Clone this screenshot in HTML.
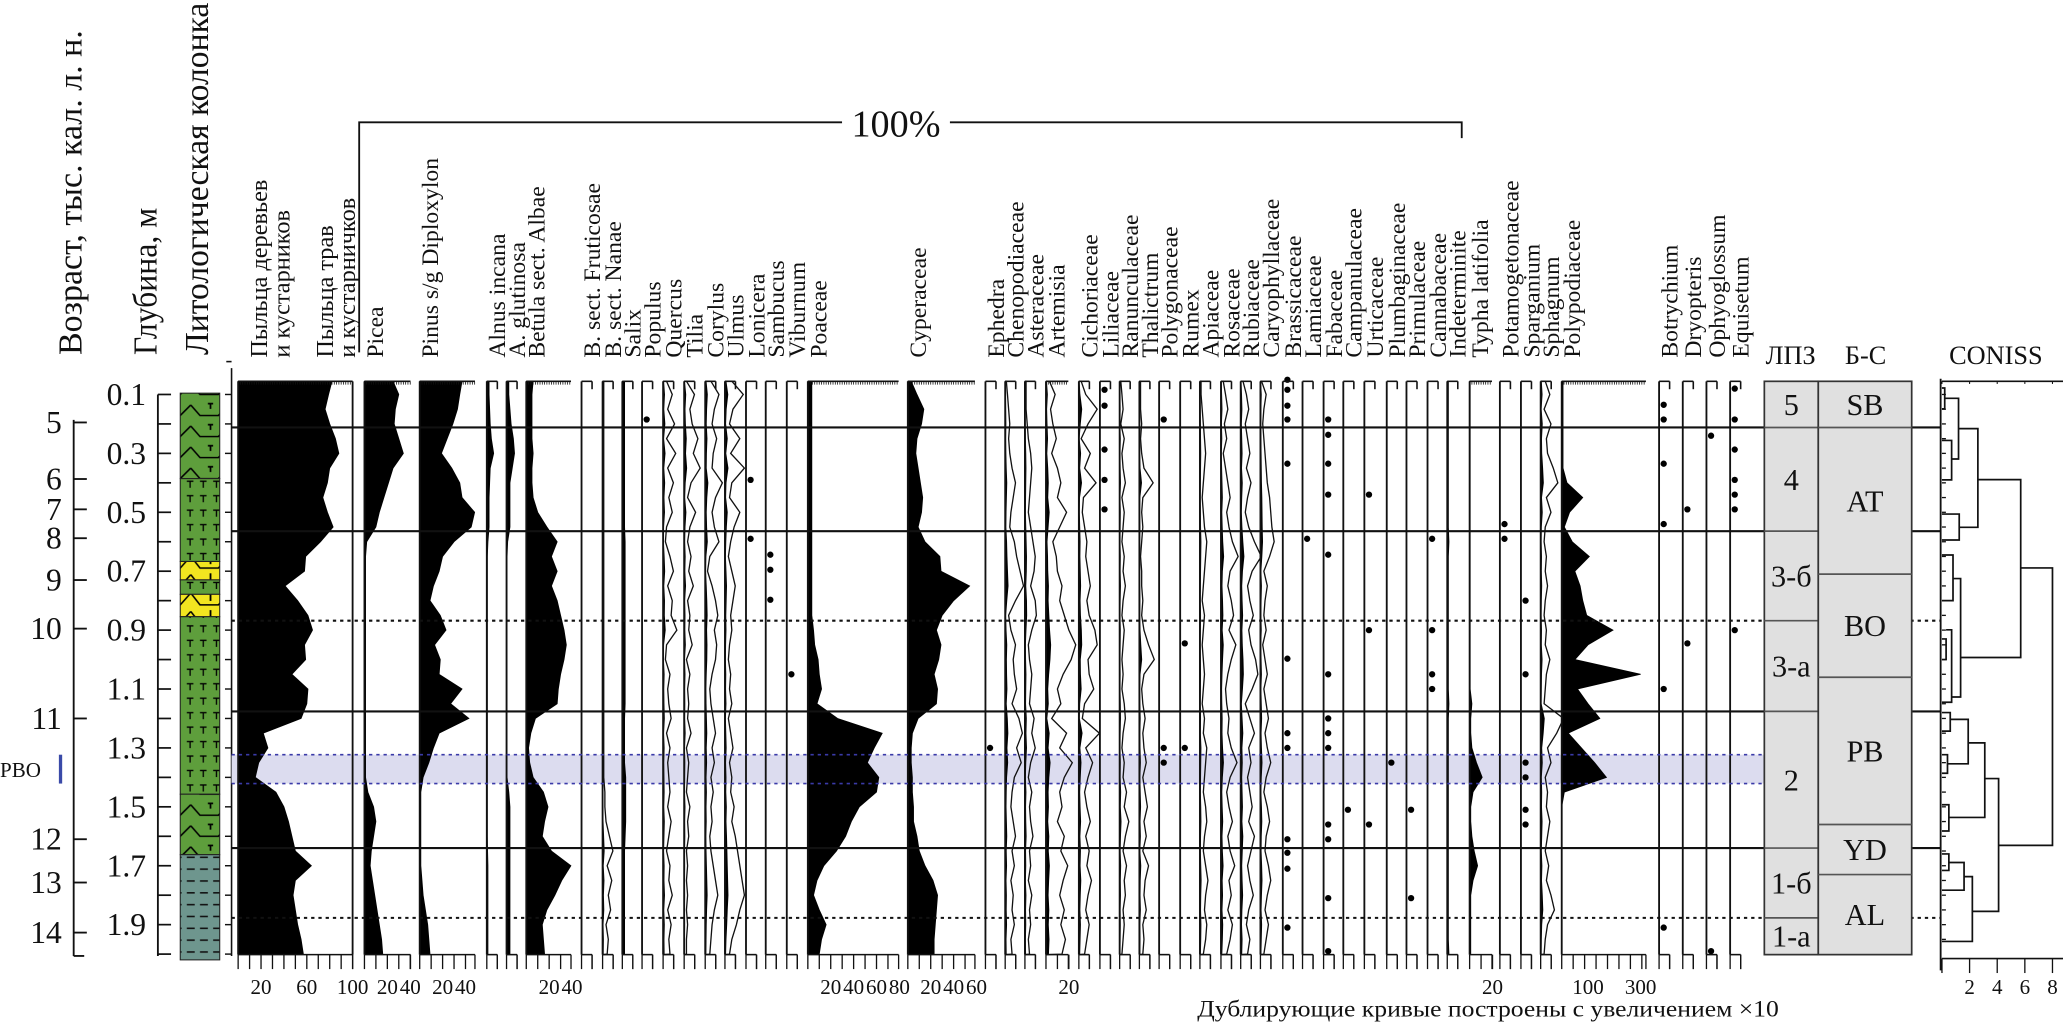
<!DOCTYPE html>
<html><head><meta charset="utf-8"><title>Pollen diagram</title>
<style>
html,body{margin:0;padding:0;background:#fff;}
svg{display:block;}
text{font-family:"Liberation Serif","DejaVu Serif",serif;fill:#111;}
</style></head>
<body>
<svg id="chart" xmlns="http://www.w3.org/2000/svg" width="2063" height="1023" viewBox="0 0 1568 778" preserveAspectRatio="none">
<defs>
<pattern id="patT" width="10" height="11" patternUnits="userSpaceOnUse">
<rect width="10" height="11" fill="#5e9e3c"/>
<path d="M2 3h5M4.5 3v5" stroke="#000" stroke-width="1"/>
</pattern>
<pattern id="patC" width="29" height="16" patternUnits="userSpaceOnUse">
<rect width="29" height="16" fill="#5e9e3c"/>
<path d="M0 4 L7 12 L21 12 L29 4" stroke="#000" fill="none" stroke-width="1.2"/>
<path d="M13 3h4M15 3v4" stroke="#000" stroke-width="1.3"/>
</pattern>
<pattern id="patY" width="29" height="14" patternUnits="userSpaceOnUse">
<rect width="29" height="14" fill="#f2e520"/>
<path d="M0 3 L7 12 L21 12 L29 3" stroke="#000" fill="none" stroke-width="1.2"/>
<path d="M15 2v7" stroke="#000" stroke-width="1.4"/>
</pattern>
<pattern id="patG" width="10" height="9" patternUnits="userSpaceOnUse">
<rect width="10" height="9" fill="#6e968e"/>
<path d="M2 4h6" stroke="#111" stroke-width="1.2"/>
</pattern>
</defs>
</svg>
<script>
// ---------- data ----------
const depths=[0.055,0.1,0.15,0.2,0.25,0.3,0.35,0.4,0.45,0.5,0.55,0.6,0.65,0.7,0.75,0.8,0.85,0.9,0.95,1.0,1.05,1.1,1.15,1.2,1.25,1.3,1.35,1.4,1.45,1.5,1.55,1.6,1.65,1.7,1.75,1.8,1.85,1.9,1.95,2.0];
const trees=[82,79,76,80,85,88,80,78,74,78,83,72,59,58,41,52,61,65,58,59,47,61,60,55,22,26,18,15,33,40,44,47,50,64,50,48,50,52,55,57];
const picea=[25,30,27,26,30,34,25,21,17,13,10,2,1,1,1,1,1,1,1,1,1,1,1,1,1,1,1,1,3,8,10,8,6,5,7,9,11,13,15,16];
const pinus=[37,35,33,29,24,19,28,35,37,48,45,30,20,17,12,9,18,23,13,18,17,37,27,43,17,12,8,3,1,1,1,1,1,1,2,3,5,7,8,9];
const alnusInc=[2,2,2.5,3,4,6,3,2.5,2,2,2,1,0.5,0.5,0.5,0.5,0.5,0.5,0.5,0.5,0.5,0.5,0.5,0.5,0.5,0.5,0.5,0.5,0.5,0.5,0.5,0.5,0.7,1,1,1,1,1,1,1];
const alnusGlu=[2,2,3,4,6,7,5,3,3,3,3,1,0.5,0.5,0.5,0.5,0.5,0.5,0.5,0.5,0.5,0.5,0.5,0.5,0.5,0.5,0.5,0.5,2,3,3,3,3,3,3,3,3,3,3,3];
const betula=[6,5,5,5,5,6,5,5,6,10,18,27,22,27,22,27,30,33,35,33,30,28,27,8,4,2,3,6,15,19,16,14,22,39,31,25,18,14,15,16];
const salix=[2,2,2,2,2,2,2,2,2,2,2,2.5,2.5,2.5,2.5,2.5,2.5,2.5,2.5,2.5,2.5,2.5,2.5,2,2,2,2,3,3,3,3,2.5,2,2,2,2,2,2,2,2];
const poaceae=[3.5,3.5,3.5,3.5,3.5,3.5,3.5,3.5,3.5,3.5,3.5,3.5,3.5,3.5,3.5,3.5,3.5,5,6,9,10,12,8,26,65,58,52,62,60,45,38,33,25,14,8,5,10,16,12,10];
const cyperaceae=[3,8,14,12,8,7,9,11,13,12,9,15,28,29,54,40,30,25,29,27,23,26,25,9,4,3,3,4,4,5,5,8,10,15,22,26,25,24,23,23];
const typha=[0.5,0.5,0.5,0.5,0.5,0.5,0.5,0.5,0.5,0.5,0.5,0.5,0.5,0.5,0.5,0.5,0.5,0.5,0.5,0.5,0.5,0.5,2,1,1,2,6,11,3,1,1,2,4,7,3,1,1,1,1,1];
const indeterm=[1,1,1,1,1,1,1,1,1,1,1,1.5,1,1,1,1,1,1,1,1,1,1,1.5,1,1,1,1,1,1,1,1,1,1,1,1,1,1,1,1,1.5];
const polypod=[5,5,5,5,5,5,5,20,80,30,10,40,105,50,70,80,95,195,100,50,300,60,100,145,25,75,125,170,10,0,0,0,0,0,0,0,0,0,0,0];
const quercus=[0.3,0.8,0.4,1.0,0.3,1.1,0.4,0.9,0.5,0.8,0.3,0.2,0.6,0.9,0.4,0.8,0.7,1.2,0.3,0.2,0.6,0.4,0.5,0.7,0.3,0.6,0.4,0.5,0.6,0.4,0.7,0.5,0.3,0.6,0.5,0.8,0.4,0.7,0.5,0.6];
const tilia=[0.2,0.9,0.5,0.7,1.2,0.8,1.4,0.6,0.3,1.0,0.5,0.3,0.6,0.4,0.8,0.3,0.5,0.4,0.7,0.2,0.5,0.3,0.4,0.3,0.6,0.2,0.4,0.3,0.2,0.5,0.3,0.4,0.2,0.3,0.2,0.3,0.2,0.3,0.2,0.2];
const corylus=[0.5,1.2,0.8,0.6,1.0,0.7,0.6,1.5,0.9,0.6,0.8,1.2,0.4,0.2,0.6,0.9,1.1,0.8,1.0,0.9,0.6,0.4,0.5,0.7,0.9,0.6,0.8,0.5,0.7,0.5,0.6,0.4,0.5,0.7,0.9,1.1,0.8,0.6,0.5,0.4];
const ulmus=[0.6,1.6,0.7,0.4,1.3,0.5,1.7,0.6,0.4,1.3,0.8,0.5,0.3,0.6,0.9,0.7,0.5,0.6,0.4,0.3,0.5,0.4,0.6,0.3,0.5,0.7,0.4,0.6,0.5,0.8,0.6,0.9,1.1,1.3,1.5,1.7,1.3,1.0,0.6,0.4];
const nanae=[0.1,0.1,0.1,0.1,0.1,0.1,0.1,0.1,0.1,0.1,0.1,0.1,0.1,0.1,0.1,0.1,0.1,0.1,0.1,0.1,0.1,0.1,0.1,0.1,0.1,0.1,0.1,0.1,0.2,0.2,0.3,0.6,0.9,0.4,0.8,0.5,0.7,0.3,0.5,0.4];
const chenopod=[0.1,0.2,0.3,0.4,0.3,0.4,0.6,0.9,0.7,0.5,0.4,0.8,1.0,1.3,1.6,0.9,0.3,0.5,0.9,0.7,0.8,1.0,0.6,1.2,1.5,1.0,1.4,0.8,0.6,0.5,0.7,0.9,0.6,0.8,0.5,0.7,0.6,0.8,0.5,0.6];
const asteraceae=[0.1,0.1,0.1,0.2,0.3,0.5,0.6,0.5,0.4,0.3,0.5,0.7,0.9,0.8,0.5,0.9,1.0,0.6,0.3,0.4,0.6,0.5,0.4,0.8,0.6,0.9,0.5,0.3,0.6,0.4,0.5,0.7,0.4,0.5,0.3,0.6,0.4,0.5,0.3,0.4];
const artemisia=[0.3,0.8,0.4,0.6,0.9,0.5,1.0,1.3,1.0,1.8,1.2,0.6,0.9,1.0,1.4,1.2,1.6,2.0,2.6,2.2,1.5,1.0,1.3,0.5,1.8,1.2,2.3,1.6,1.2,1.4,1.0,1.6,1.3,1.9,1.5,1.2,1.6,1.3,1.7,1.4];
const cichor=[0.2,0.6,1.6,0.8,0.2,1.0,0.5,1.5,0.4,0.3,0.5,0.7,0.6,0.8,1.0,0.7,0.9,1.4,1.6,0.8,0.9,1.3,0.5,0.3,1.8,0.6,1.2,0.8,0.5,0.7,1.0,0.6,0.9,0.7,1.1,0.8,0.6,0.9,0.7,0.5];
const ranunc=[0.1,0.2,0.3,0.1,0.4,0.2,0.3,0.5,0.2,0.4,0.3,0.2,0.4,0.3,0.5,0.3,0.2,0.4,0.3,0.2,0.3,0.2,0.4,0.5,0.3,0.2,0.4,0.3,0.6,0.4,0.8,0.5,0.3,0.6,0.4,0.5,0.3,0.4,0.3,0.2];
const thalict=[0.1,0.1,0.1,0.2,0.1,0.2,0.4,1.2,0.3,0.2,0.3,0.2,0.1,0.2,0.2,0.3,0.2,0.4,0.8,1.3,0.4,0.2,0.3,0.5,0.3,0.4,0.6,0.3,0.5,0.7,0.4,0.6,0.3,0.8,0.5,0.4,0.6,0.3,0.4,0.3];
const apiaceae=[0.1,0.1,0.2,0.3,0.4,0.5,0.4,0.3,0.2,0.3,0.4,0.6,0.5,0.4,0.3,0.2,0.4,0.3,0.2,0.3,0.4,0.3,0.2,0.4,0.3,0.6,0.5,0.4,0.3,0.5,0.6,0.4,0.3,0.5,0.7,0.5,0.4,0.6,0.5,0.3];
const rosaceae=[0.2,0.4,0.6,0.3,0.5,0.2,0.4,0.6,0.8,0.5,0.7,1.0,1.5,0.8,0.6,0.9,1.1,0.7,1.3,0.9,0.6,0.4,0.5,0.7,0.6,0.9,1.4,0.8,0.5,0.7,1.0,0.6,0.8,1.2,0.7,0.9,0.6,1.0,0.8,0.5];
const rubiac=[0.2,0.5,0.7,0.4,0.6,0.8,0.5,0.9,0.6,0.4,0.7,1.2,1.8,1.0,0.6,0.8,1.1,0.7,0.9,1.3,1.5,1.0,0.4,0.8,1.2,0.7,0.9,0.6,0.8,1.0,0.7,1.2,0.9,0.6,0.8,1.1,0.7,0.5,0.8,0.6];
const caryoph=[0.1,0.5,0.3,0.2,0.3,0.4,0.5,0.6,0.8,0.9,1.0,1.2,0.8,0.3,0.6,0.4,0.3,0.5,0.2,0.4,0.6,0.3,0.5,0.7,0.4,0.6,0.9,0.5,0.3,0.6,0.8,0.5,0.4,0.7,0.9,0.6,0.4,0.7,0.5,0.3];
const sphagnum=[0.4,0.8,0.3,0.9,0.5,0.6,1.1,1.5,0.5,0.9,0.4,0.3,0.5,0.4,0.6,0.4,0.3,0.5,0.4,0.8,0.5,0.4,0.3,2.0,1.4,0.6,0.9,0.4,0.6,0.5,0.8,0.6,0.4,0.7,0.5,0.9,1.2,0.6,0.4,0.3];
// sporadic finds (depth, m)
const dotsPopulus=[0.185];
const dotsLonicera=[0.39,0.59];
const dotsSambucus=[0.644,0.695,0.797];
const dotsViburnum=[1.05];
const dotsEphedra=[1.30];
const dotsLiliaceae=[0.084,0.138,0.287,0.39,0.49];
const dotsPolygonaceae=[0.185,1.30,1.35];
const dotsRumex=[0.945,1.30];
const dotsBrassicaceae=[0.05,0.084,0.138,0.185,0.335,0.997,1.25,1.30,1.61,1.656,1.71,1.91];
const dotsLamiaceae=[0.59];
const dotsFabaceae=[0.185,0.237,0.335,0.44,0.644,1.05,1.20,1.25,1.30,1.56,1.61,1.81,1.99];
const dotsCampanul=[1.51];
const dotsUrtic=[0.44,0.90,1.56];
const dotsPlumbag=[1.35];
const dotsPrimul=[1.51,1.81];
const dotsCannab=[0.59,0.90,1.05,1.10];
const dotsPotamog=[0.54,0.59];
const dotsSparganium=[0.80,1.05,1.35,1.40,1.51,1.56];
const dotsBotrychium=[0.135,0.185,0.335,0.54,1.10,1.91];
const dotsDryopteris=[0.49,0.945];
const dotsOphyogl=[0.24,1.99];
const dotsEquisetum=[0.08,0.185,0.287,0.39,0.44,0.49,0.90];
// zones
const zoneSolid=[0.212,0.564,1.176,1.64];
const zoneDotted=[0.868,1.877];
const pboBand=[1.323,1.421];
const lpzBounds=[0.212,0.564,0.868,1.176,1.64,1.877];
const lpzLabels=["5","4","3-б","3-а","2","1-б","1-а"];
const bsBounds=[0.212,0.71,1.06,1.56,1.73];
const bsLabels=["SB","AT","BO","PB","YD","AL"];
const ageTicks=[5,6,7,8,9,10,11,12,13,14];
const ageDepths=[0.195,0.387,0.49,0.588,0.73,0.895,1.2,1.61,1.757,1.927];
const depthLabels=[0.1,0.3,0.5,0.7,0.9,1.1,1.3,1.5,1.7,1.9];
// CONISS merges: [top depth, bottom depth, height, top child h, bottom child h]
const conissMerges=[[0.689,1.631,8,5.7,4.1],[0.389,0.993,5.7,2.6,1.35],[0.216,0.551,2.6,1.2,1.25],[0.113,0.319,1.2,0.2,0.7],[0.078,0.149,0.2,0,0],[0.256,0.39,0.7,0,0],[0.506,0.594,1.25,0,0],[0.725,1.127,1.35,0.8,0.7],[0.645,0.80,0.8,0,0],[0.899,1.145,0.7,0.3,0],[0.93,1.0,0.3,0,0],[1.404,1.855,4.1,3.1,2.2],[1.283,1.536,3.1,1.9,0.5],[1.203,1.354,1.9,0.6,0.4],[1.18,1.243,0.6,0,0],[1.323,1.386,0.4,0,0],[1.493,1.582,0.5,0,0],[1.737,1.957,2.2,1.6,0],[1.689,1.783,1.6,0.5,0],[1.66,1.716,0.5,0,0]];
const conissTicks=[2,4,6,8];

// ---------- helpers ----------
const NS='http://www.w3.org/2000/svg';
const svg=document.getElementById('chart');
function mk(tag,attrs,parent){const e=document.createElementNS(NS,tag);for(const k in attrs)e.setAttribute(k,attrs[k]);(parent||svg).appendChild(e);return e;}
const Y=d=>300+(d-0.1)*224;
const PX=0.87;
const TOP=290,BOT=726;
const CX=h=>1476+h*10.5;

// layout of columns
const cols=[
{label:'Picea',x:277,w:35,kind:'fill',data:picea,ticks:[20,40]},
{label:'Pinus s/g Diploxylon',x:319,w:42,kind:'fill',data:pinus,ticks:[20,40]},
{label:'Alnus incana',x:370,w:8,kind:'fill',data:alnusInc},
{label:'A. glutinosa',x:385,w:8,kind:'fill',data:alnusGlu},
{label:'Betula sect. Albae',x:400,w:34,kind:'fill',data:betula,ticks:[20,40]},
{label:'B. sect. Fruticosae',x:442,w:8,kind:'none'},
{label:'B. sect. Nanae',x:458,w:8,kind:'line',data:nanae},
{label:'Salix',x:473,w:8,kind:'fill',data:salix},
{label:'Populus',x:488,w:8,kind:'dots',data:dotsPopulus},
{label:'Quercus',x:504,w:8,kind:'line',data:quercus},
{label:'Tilia',x:520,w:8,kind:'line',data:tilia},
{label:'Corylus',x:536,w:8,kind:'line',data:corylus},
{label:'Ulmus',x:551,w:8,kind:'line',data:ulmus},
{label:'Lonicera',x:567,w:8,kind:'dots',data:dotsLonicera},
{label:'Sambucus',x:582,w:8,kind:'dots',data:dotsSambucus},
{label:'Viburnum',x:598,w:8,kind:'dots',data:dotsViburnum},
{label:'Poaceae',x:614,w:69,kind:'fill',data:poaceae,ticks:[20,40,60,80]},
{label:'Cyperaceae',x:690,w:51,kind:'fill',data:cyperaceae,ticks:[20,40,60]},
{label:'Ephedra',x:749,w:8,kind:'dots',data:dotsEphedra},
{label:'Chenopodiaceae',x:764,w:8,kind:'line',data:chenopod},
{label:'Asteraceae',x:779,w:8,kind:'line',data:asteraceae},
{label:'Artemisia',x:795,w:17,kind:'line',data:artemisia,ticks:[20]},
{label:'Cichoriaceae',x:820,w:8,kind:'line',data:cichor},
{label:'Liliaceae',x:836,w:8,kind:'dots',data:dotsLiliaceae},
{label:'Ranunculaceae',x:851,w:8,kind:'line',data:ranunc},
{label:'Thalictrum',x:866,w:8,kind:'line',data:thalict},
{label:'Polygonaceae',x:881,w:8,kind:'dots',data:dotsPolygonaceae},
{label:'Rumex',x:897,w:8,kind:'dots',data:dotsRumex},
{label:'Apiaceae',x:912,w:8,kind:'line',data:apiaceae},
{label:'Rosaceae',x:928,w:8,kind:'line',data:rosaceae},
{label:'Rubiaceae',x:943,w:8,kind:'line',data:rubiac},
{label:'Caryophyllaceae',x:958,w:8,kind:'line',data:caryoph},
{label:'Brassicaceae',x:975,w:8,kind:'dots',data:dotsBrassicaceae},
{label:'Lamiaceae',x:990,w:8,kind:'dots',data:dotsLamiaceae},
{label:'Fabaceae',x:1006,w:8,kind:'dots',data:dotsFabaceae},
{label:'Campanulaceae',x:1021,w:8,kind:'dots',data:dotsCampanul},
{label:'Urticaceae',x:1037,w:8,kind:'dots',data:dotsUrtic},
{label:'Plumbaginaceae',x:1054,w:8,kind:'dots',data:dotsPlumbag},
{label:'Primulaceae',x:1069,w:8,kind:'dots',data:dotsPrimul},
{label:'Cannabaceae',x:1085,w:8,kind:'dots',data:dotsCannab},
{label:'Indeterminite',x:1100,w:8,kind:'fill',data:indeterm},
{label:'Typha latifolia',x:1117,w:17,kind:'fill',data:typha,ticks:[20]},
{label:'Potamogetonaceae',x:1140,w:8,kind:'dots',data:dotsPotamog},
{label:'Sparganium',x:1156,w:8,kind:'dots',data:dotsSparganium},
{label:'Sphagnum',x:1171,w:8,kind:'line',data:sphagnum},
{label:'Polypodiaceae',x:1187,w:64,kind:'fill',data:polypod,scale:0.2,ticks:[100,300]},
{label:'Botrychium',x:1261,w:8,kind:'dots',data:dotsBotrychium},
{label:'Dryopteris',x:1279,w:8,kind:'dots',data:dotsDryopteris},
{label:'Ophyoglossum',x:1297,w:8,kind:'dots',data:dotsOphyogl},
{label:'Equisetum',x:1315,w:8,kind:'dots',data:dotsEquisetum}
];

// ---------- left titles ----------
function vtext(str,x,y,size,len,name){
  const t=mk('text',{x:0,y:0,transform:`translate(${x},${y}) rotate(-90)`,'font-size':size});
  if(len){t.setAttribute('textLength',len);t.setAttribute('lengthAdjust','spacingAndGlyphs');}
  t.textContent=str;
  
  
  return t;
}
vtext('Возраст,  тыс. кал. л. н.',62,270,26,247,'age-axis-title');
vtext('Глубина, м',119,270,26,112,'depth-axis-title');
vtext('Литологическая колонка',158,270,26,268,'lithology-title');
vtext('Пыльца деревьев',203,272,18.5,null,'trees-pollen-title');
vtext('и кустарников',220,272,18.5,null,'trees-pollen-title-2');
vtext('Пыльца трав',253,272,18.5,null,'herbs-pollen-title');
vtext('и кустарничков',270,272,18.5,null,'herbs-pollen-title-2');

// 100% bracket
const br=mk('path',{d:'M273 268 V93 H640 M722 93 H1111 V105',stroke:'#111','stroke-width':1.4,fill:'none'});


const pct=mk('text',{x:681,y:104,'font-size':29,'text-anchor':'middle'});
pct.textContent='100%';



// ---------- age axis ----------
const ageG=mk('g',{});


mk('line',{x1:56,y1:Y(0.195)-2,x2:56,y2:BOT+1,stroke:'#111','stroke-width':1.4},ageG);
mk('line',{x1:56,y1:BOT+1,x2:64,y2:BOT+1,stroke:'#111','stroke-width':1.4},ageG);
ageTicks.forEach((a,i)=>{
  mk('line',{x1:56,y1:Y(ageDepths[i]),x2:66,y2:Y(ageDepths[i]),stroke:'#111','stroke-width':1.4},ageG);
  const t=mk('text',{x:47,y:Y(ageDepths[i])+8,'font-size':24,'text-anchor':'end'},ageG);
  t.textContent=a;
  
  
});
// depth axis
const depG=mk('g',{});


mk('line',{x1:120,y1:Y(0.1),x2:120,y2:BOT+1,stroke:'#111','stroke-width':1.4},depG);
for(let d=0.1;d<2.0001;d+=0.1){mk('line',{x1:120,y1:Y(d),x2:130,y2:Y(d),stroke:'#111','stroke-width':1.3},depG);}
depthLabels.forEach(d=>{
  const t=mk('text',{x:111,y:Y(d)+8,'font-size':24,'text-anchor':'end'},depG);
  t.textContent=d.toFixed(1);
  
  
});
// PBO marker
const pbo=mk('text',{x:0,y:(Y(pboBand[0])+Y(pboBand[1]))/2+6,'font-size':16});
pbo.textContent='PBO';


const pbar=mk('line',{x1:46,y1:Y(pboBand[0]),x2:46,y2:Y(pboBand[1]),stroke:'#3a4aa8','stroke-width':2.5});



// ---------- lithology ----------
const lith=mk('g',{});


[[299,364,'patC'],[364,427,'patT'],[427,441,'patY'],[441,452,'patT'],[452,469,'patY'],[469,604,'patT'],[604,650,'patC'],[650,730,'patG']].forEach(s=>{
  mk('rect',{x:137,y:s[0],width:30,height:s[1]-s[0],fill:`url(#${s[2]})`,stroke:'#222','stroke-width':0.8},lith);
});
// sample axis
const sax=mk('g',{});


mk('line',{x1:176,y1:280,x2:176,y2:BOT+1,stroke:'#111','stroke-width':1.2},sax);
mk('line',{x1:172,y1:275,x2:176,y2:275,stroke:'#111','stroke-width':1.2},sax);
for(let d=0.1;d<2.0001;d+=0.1){mk('line',{x1:171,y1:Y(d),x2:176,y2:Y(d),stroke:'#111','stroke-width':1.1},sax);}

// ---------- PBO band & zone lines ----------
const band=mk('rect',{x:176,y:Y(pboBand[0]),width:1165,height:Y(pboBand[1])-Y(pboBand[0]),fill:'#dcdcef'});



// ---------- tree/herb column ----------
function silhouette(x,data,scale,g){
  let pts=`${x},${Y(depths[0])} `;
  data.forEach((v,i)=>{pts+=`${x+v*scale},${Y(depths[i])} `;});
  pts+=`${x},${Y(depths[depths.length-1])}`;
  return mk('polygon',{points:pts,fill:'#000',stroke:'#000','stroke-width':0.6},g);
}
function bottomAxis(x,w,step,g){
  mk('line',{x1:x,y1:BOT,x2:x+w,y2:BOT,stroke:'#111','stroke-width':1.2},g);
  for(let p=0;p<=w+0.5;p+=step){mk('line',{x1:x+p,y1:BOT,x2:x+p,y2:BOT+11,stroke:'#111','stroke-width':1},g);}
  mk('line',{x1:x+w,y1:BOT,x2:x+w,y2:BOT+11,stroke:'#111','stroke-width':1},g);
}
function topAxis(x,w,g){
  mk('line',{x1:x,y1:TOP,x2:x+w,y2:TOP,stroke:'#111','stroke-width':1.2},g);
  if(w>10){for(let p=0;p<=w;p+=PX*2){mk('line',{x1:x+p,y1:TOP,x2:x+p,y2:TOP+2.5,stroke:'#111','stroke-width':0.6},g);}}
  else mk('line',{x1:x+w,y1:TOP,x2:x+w,y2:TOP+6,stroke:'#111','stroke-width':1.2},g);
}
const tg=mk('g',{});


const tp=silhouette(181,trees,PX,tg);


mk('line',{x1:181,y1:TOP,x2:181,y2:BOT,stroke:'#111','stroke-width':1.4},tg);
mk('line',{x1:268,y1:TOP,x2:268,y2:BOT,stroke:'#111','stroke-width':1.4},tg);
topAxis(181,87,tg);
bottomAxis(181,87,PX*10,tg);
[20,60,100].forEach(v=>{
  const t=mk('text',{x:181+v*PX,y:756,'font-size':16,'text-anchor':'middle'},tg);
  t.textContent=v;
  
  
});

// ---------- taxa columns ----------
cols.forEach(c=>{
  const g=mk('g',{});
  
  
  const sc=c.scale||PX;
  if(c.kind==='fill'){
    const p=silhouette(c.x,c.data,sc,g);
    
    
  } else if(c.kind==='line'){
    const f=silhouette(c.x,c.data,PX*1.6,g);
    
    
    const pts=c.data.map((v,i)=>`${c.x+v*PX*10},${Y(depths[i])}`).join(' ');
    const pl=mk('polyline',{points:`${c.x},${TOP} `+pts+` ${c.x},${BOT}`,fill:'none',stroke:'#111','stroke-width':1},g);
    
    
  } else if(c.kind==='dots'){
    c.data.forEach(d=>{
      const ci=mk('circle',{cx:c.x+3.5,cy:Y(d),r:2.4,fill:'#000'},g);
      
      
    });
  }
  mk('line',{x1:c.x,y1:TOP,x2:c.x,y2:BOT,stroke:'#111','stroke-width':1.4},g);
  topAxis(c.x,c.w,g);
  bottomAxis(c.x,c.w,c.w>10?PX*10:c.w,g);
  (c.ticks||[]).forEach(v=>{
    const t=mk('text',{x:c.x+v*sc,y:756,'font-size':16,'text-anchor':'middle'},g);
    t.textContent=v;
    
    
  });
  const lab=mk('text',{x:0,y:0,transform:`translate(${c.x+14},272) rotate(-90)`,'font-size':18});
  lab.textContent=c.label;
  
  
});

// zone lines on top of curves
const zg=mk('g',{});


zoneSolid.forEach(d=>{
  const l=mk('line',{x1:176,y1:Y(d),x2:1475,y2:Y(d),stroke:'#111','stroke-width':1.6},zg);
  
  
});
zoneDotted.forEach(d=>{
  const l=mk('line',{x1:176,y1:Y(d),x2:1475,y2:Y(d),stroke:'#111','stroke-width':1.6,'stroke-dasharray':'2.5 3'},zg);
  
  
});
pboBand.forEach(d=>{
  mk('line',{x1:176,y1:Y(d),x2:1341,y2:Y(d),stroke:'#3a3aa8','stroke-width':1.3,'stroke-dasharray':'2.5 3'},zg);
});

// ---------- ЛПЗ and Б-С ----------
function zoneBox(x,w,bounds,labels,name){
  const g=mk('g',{});
  
  
  mk('rect',{x:x,y:TOP,width:w,height:BOT-TOP,fill:'#e0e0e0',stroke:'#333','stroke-width':1.3},g);
  const edges=[0.055].concat(bounds,[2.0]);
  bounds.forEach(d=>mk('line',{x1:x,y1:Y(d),x2:x+w,y2:Y(d),stroke:'#555','stroke-width':1.3},g));
  labels.forEach((s,i)=>{
    const yc=(Y(edges[i])+Y(edges[i+1]))/2;
    const t=mk('text',{x:x+w/2,y:yc+8,'font-size':23,'text-anchor':'middle'},g);
    t.textContent=s;
    
    
  });
}
zoneBox(1341,41,lpzBounds,lpzLabels,'pollen-zones-column');
zoneBox(1382,71,bsBounds,bsLabels,'blytt-sernander-column');
[['ЛПЗ',1361],['Б-С',1418],['CONISS',1517]].forEach(h=>{
  const t=mk('text',{x:h[1],y:277,'font-size':20,'text-anchor':'middle'});
  t.textContent=h[0];
  
  
});

// ---------- CONISS ----------
const cg=mk('g',{});


mk('line',{x1:1475,y1:TOP-2,x2:1475,y2:BOT+12,stroke:'#111','stroke-width':1.4},cg);
mk('line',{x1:1476,y1:TOP,x2:1568,y2:TOP,stroke:'#111','stroke-width':1.2},cg);
mk('line',{x1:1476,y1:BOT+3,x2:1568,y2:BOT+3,stroke:'#111','stroke-width':1.2},cg);
[0].concat(conissTicks).forEach(v=>{
  mk('line',{x1:CX(v),y1:BOT+3,x2:CX(v),y2:BOT+14,stroke:'#111','stroke-width':1},cg);
  mk('line',{x1:CX(v),y1:TOP,x2:CX(v),y2:TOP+2,stroke:'#111','stroke-width':0.8},cg);
});
conissTicks.forEach(v=>{
  const t=mk('text',{x:CX(v),y:756,'font-size':16,'text-anchor':'middle'},cg);
  t.textContent=v;
  
  
});
conissMerges.forEach(m=>{
  const p=mk('path',{d:`M${CX(m[3])} ${Y(m[0])} H${CX(m[2])} V${Y(m[1])} H${CX(m[4])}`,fill:'none',stroke:'#111','stroke-width':1.3},cg);
  
  
});
for(let d=0.1;d<2.0;d+=0.05){mk('line',{x1:1476,y1:Y(d),x2:1479,y2:Y(d),stroke:'#111','stroke-width':1},cg);}

// caption
const cap=mk('text',{x:910,y:773,'font-size':18,textLength:442,lengthAdjust:'spacingAndGlyphs'});
cap.textContent='Дублирующие кривые построены с увеличением ×10';


</script>
</body></html>
